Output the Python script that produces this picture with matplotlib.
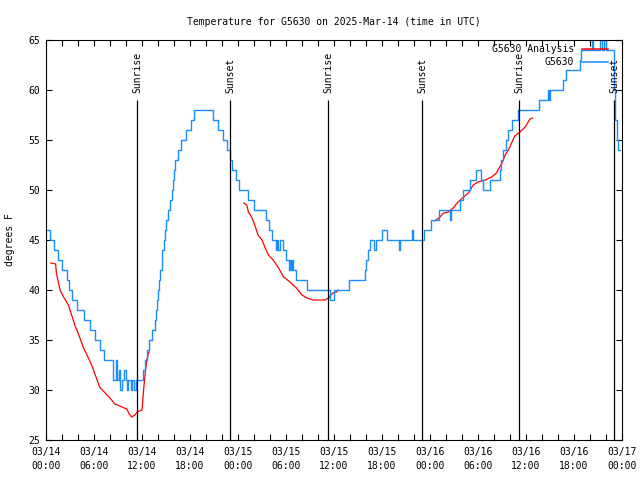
import matplotlib.pyplot as plt
import numpy as np

# hours since 2025-03-14 00:00 UTC
obs_time = [0.0, 0.5, 1.0, 1.5, 2.0, 2.6, 2.9, 3.2, 3.9, 4.7,
            5.5, 6.1, 6.75, 7.25, 8.35, 8.75, 8.8, 8.9, 9.1, 9.25,
            9.46, 9.8, 9.96, 10.08, 10.3, 10.58, 10.7, 11.04, 11.2, 12.17,
            12.4, 12.6, 12.85, 13.3, 13.6, 13.75, 13.9, 14.0, 14.15, 14.3,
            14.45, 14.55, 14.7, 14.85, 15.0, 15.25, 15.5, 15.75, 15.9, 16.0,
            16.15, 16.5, 16.9, 17.5, 18.1, 18.45, 20.85, 21.5, 22.1, 22.6,
            22.95, 23.3, 23.7, 24.1, 25.2, 25.95, 27.5, 27.9, 28.3, 28.75,
            28.9, 29.0, 29.2, 29.65, 30.05, 30.4, 30.55, 30.65, 30.8, 30.9,
            31.25, 32.65, 35.45, 36.05, 37.85, 39.85, 40.05, 40.25, 40.55, 41.0,
            41.2, 41.95, 42.65, 44.15, 44.3, 45.75, 45.85, 47.3, 48.1, 49.1,
            50.55, 50.65, 51.7, 52.1, 52.95, 53.75, 54.4, 54.65, 55.45, 56.7,
            56.9, 57.15, 57.45, 57.75, 58.25, 59.0, 61.6, 62.75, 62.85, 62.95,
            64.6, 65.05, 66.8, 66.9, 68.2, 68.4, 69.2, 69.5, 69.7, 70.0,
            71.0, 71.15, 71.35, 71.55, 71.75]
obs_temp = [46, 45, 44, 43, 42, 41, 40, 39, 38, 37,
            36, 35, 34, 33, 31, 32, 33, 31, 32, 30,
            31, 32, 31, 30, 31, 30, 31, 30, 31, 32,
            33, 34, 35, 36, 37, 38, 39, 40, 41, 42,
            43, 44, 45, 46, 47, 48, 49, 50, 51, 52,
            53, 54, 55, 56, 57, 58, 57, 56, 55, 54,
            53, 52, 51, 50, 49, 48, 47, 46, 45, 44,
            45, 44, 45, 44, 43, 42, 43, 42, 43, 42,
            41, 40, 39, 40, 41, 42, 43, 44, 45, 44,
            45, 46, 45, 44, 45, 46, 45, 46, 47, 48,
            47, 48, 49, 50, 51, 52, 51, 50, 51, 52,
            53, 54, 55, 56, 57, 58, 59, 60, 59, 60,
            61, 62, 63, 64, 66, 64, 66, 64, 66, 64,
            60, 57, 55, 54, 54]

# analysis has gaps (nan) between runs
ana_time = [0.6, 1.2, 1.3, 1.75, 2.2, 2.8, 3.2, 3.6, 4.2, 4.7, 5.3, 5.8, 6.25,
            6.7, 7.4, 8.0, 8.6, 9.5, 10.1, 10.4, 10.7, 11.1, 11.4, 12.0, 12.2,
            12.4, 12.6, 12.8, 12.9, np.nan,
            24.7, 25.1, 25.3, 25.7, 26.1, 26.5, 27.0, 27.4, 27.8, 28.4, 29.0,
            29.7, 30.5, 31.3, 32.0, 32.6, 33.4, 34.9, 35.3, 35.6, 35.9, 36.3,
            36.5, np.nan,
            48.6, 49.25, 49.7, 50.3, 50.9, 51.5, 52.2, 52.8, 53.4, 54.0, 54.9,
            55.7, 56.3, 57.0, 57.4, 57.8, 58.2, 58.6, 59.25, 59.9, 60.5, 60.8]
ana_temp = [42.7, 42.6, 41.7, 40.0, 39.3, 38.5, 37.5, 36.5, 35.3, 34.2, 33.2,
            32.3, 31.3, 30.3, 29.7, 29.2, 28.6, 28.3, 28.1, 27.6, 27.3, 27.5,
            27.8, 28.0, 30.0, 31.7, 33.0, 33.7, 33.8, np.nan,
            48.7, 48.5, 47.8, 47.3, 46.5, 45.5, 45.0, 44.2, 43.5, 43.0, 42.3,
            41.3, 40.8, 40.2, 39.5, 39.2, 39.0, 39.0, 39.2, 39.5, 39.7, 39.8,
            40.0, np.nan,
            46.9, 47.3, 47.7, 47.8, 48.2, 48.8, 49.3, 49.7, 50.5, 50.8, 51.0,
            51.3, 51.7, 52.7, 53.5, 54.0, 54.7, 55.4, 55.8, 56.3, 57.1, 57.2]

sun_events = ["Sunrise", "Sunset", "Sunrise", "Sunset", "Sunrise", "Sunset"]
sun_times = [11.38, 23.0, 35.3, 47.03, 59.15, 71.05]

xtick_hours = list(range(0, 73, 6))
xtick_labels = ["03/14\n00:00", "03/14\n06:00", "03/14\n12:00", "03/14\n18:00",
                "03/15\n00:00", "03/15\n06:00", "03/15\n12:00", "03/15\n18:00",
                "03/16\n00:00", "03/16\n06:00", "03/16\n12:00", "03/16\n18:00",
                "03/17\n00:00"]

BLUE = "#1a8cff"
RED = "#ff0000"

plt.rcParams["font.family"] = "DejaVu Sans Mono"
plt.rcParams["font.size"] = 7

fig = plt.figure(figsize=(6.4, 4.8), dpi=100)
ax = fig.add_axes([46 / 640, 40 / 480, 576 / 640, 400 / 480])

ax.plot(ana_time, ana_temp, color=RED, lw=0.9, label="G5630 Analysis")
ax.plot(obs_time, obs_temp, color=BLUE, lw=1.0, drawstyle="steps-post",
        label="G5630")

ax.vlines(sun_times, 25, 59, color="black", lw=0.9, zorder=3)
for t, name in zip(sun_times, sun_events):
    ax.text(t, 59.7, name, rotation=90, ha="center", va="bottom", zorder=4)

ax.set_xlim(0, 72)
ax.set_ylim(25, 65)
ax.set_xticks(xtick_hours, xtick_labels, linespacing=1.5)
ax.set_xticks(range(0, 73, 2), minor=True)
ax.set_yticks(range(25, 66, 5))
ax.tick_params(which="both", direction="in", length=4, width=0.8,
               top=True, right=True)
ax.tick_params(axis="x", which="major", pad=5)
ax.tick_params(axis="y", pad=4)
for spine in ax.spines.values():
    spine.set_linewidth(0.8)

ax.set_ylabel("degrees F")
ax.yaxis.set_label_coords(-0.054, 0.5)
ax.set_title("Temperature for G5630 on 2025-Mar-14 (time in UTC)",
             fontsize=7, pad=11)

leg = ax.legend(loc="upper right", bbox_to_anchor=(0.976, 0.99),
                frameon=False, markerfirst=False, borderpad=0,
                borderaxespad=0, handlelength=2.7, handletextpad=0.8,
                labelspacing=0.3)
leg.set_zorder(6)
for handle in leg.get_lines():
    handle.set_linewidth(1.1)

fig.savefig("out.png", dpi=100)
